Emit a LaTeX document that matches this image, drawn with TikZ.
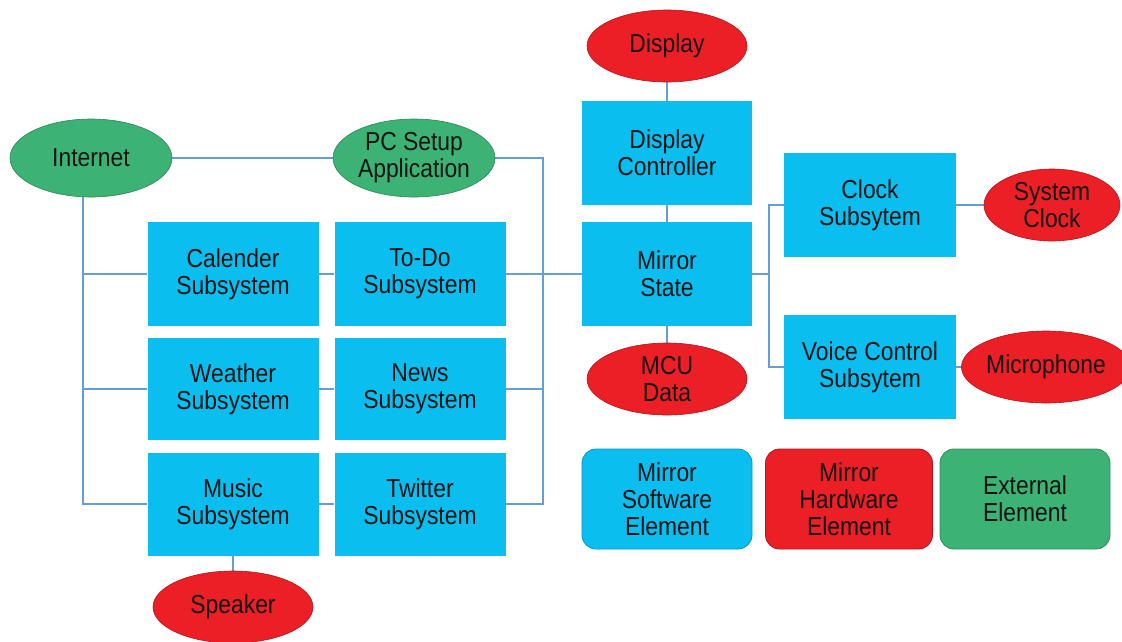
\documentclass[tikz,border=0pt]{standalone}
\usepackage{fontspec}
\setmainfont{Liberation Sans}[FakeStretch=0.88]
\usetikzlibrary{shapes.geometric,backgrounds}
\definecolor{boxblue}{RGB}{10,190,240}
\definecolor{hwred}{RGB}{236,30,38}
\definecolor{extgreen}{RGB}{60,178,116}
\definecolor{linkblue}{RGB}{100,158,212}
\tikzset{
  every node/.style={font=\fontsize{26}{27}\selectfont, text=black!92, align=center, inner sep=0pt},
  sbox/.style={rectangle, fill=boxblue, minimum width=#1, minimum height=104},
  sbox/.default=171,
  hwell/.style={ellipse, fill=hwred, draw=hwred!75!black, line width=0.6pt, minimum width=#1, minimum height=72},
  hwell/.default=160,
  extell/.style={ellipse, fill=extgreen, draw=extgreen!75!black, line width=0.6pt, minimum width=162, minimum height=78},
  legend/.style={rectangle, rounded corners=14pt, minimum width=170, minimum height=100, line width=0.8pt},
  link/.style={draw=linkblue, line width=2.2pt},
}
\begin{document}
\begin{tikzpicture}[x=1pt,y=-1pt]
\useasboundingbox (0,0) rectangle (1122,641);
% external
\node[extell] (inet) at (91,158) {Internet};
\node[extell] (pc) at (414,158) {PC Setup\\Application};
% subsystems left grid
\node[sbox] (cal) at (233,274) {Calender\\Subsystem};
\node[sbox] (todo) at (420,274) {To-Do\\Subsystem};
\node[sbox,minimum height=102] (weather) at (233,389) {Weather\\Subsystem};
\node[sbox,minimum height=102] (news) at (420,389) {News\\Subsystem};
\node[sbox,minimum height=103] (music) at (233,504) {Music\\Subsystem};
\node[sbox,minimum height=103] (twitter) at (420,504) {Twitter\\Subsystem};
\node[hwell] (speaker) at (233,607) {Speaker};
% middle column
\node[hwell] (display) at (667,46) {Display};
\node[sbox,minimum width=170] (dc) at (667,153) {Display\\Controller};
\node[sbox,minimum width=170] (ms) at (667,274) {Mirror\\State};
\node[hwell] (mcu) at (667,379) {MCU\\Data};
% right column
\node[sbox,minimum width=172] (clock) at (870,205) {Clock\\Subsytem};
\node[hwell=136] (sysclk) at (1052,205) {System\\Clock};
\node[sbox,minimum width=172] (voice) at (870,367) {Voice Control\\Subsytem};
\node[hwell=150] (mic) at (1046,367) {Microphone};
% legend
\node[legend, fill=boxblue, draw=boxblue!80!black] (lsw) at (667,499) {Mirror\\Software\\Element};
\node[legend, fill=hwred, draw=hwred!75!black, minimum width=167] (lhw) at (849,499) {Mirror\\Hardware\\Element};
\node[legend, fill=extgreen, draw=extgreen!80!black] (lext) at (1025,499) {External\\Element};
% bus coordinates
\coordinate (lbus) at (83,504);
\coordinate (rbus) at (543,504);
\coordinate (vbus) at (769,274);
\begin{scope}[on background layer]
  \draw[link] (inet.east) -- (pc.west);
  \draw[link] (pc.east) -| (rbus) -- (twitter.east);
  \draw[link] (news.east) -- (news.east -| rbus);
  \draw[link] (todo.east) -- (ms.west);
  \draw[link] (inet.center -| lbus) -- (lbus) -- (music.west);
  \draw[link] (cal.west -| lbus) -- (cal.west);
  \draw[link] (weather.west -| lbus) -- (weather.west);
  \draw[link] (cal.east) -- (todo.west);
  \draw[link] (weather.east) -- (news.west);
  \draw[link] (music.east) -- (twitter.west);
  \draw[link] (music.south) -- (speaker.center);
  \draw[link] (display.center) -- (dc.north);
  \draw[link] (dc.south) -- (ms.north);
  \draw[link] (ms.south) -- (mcu.center);
  \draw[link] (ms.east) -- (vbus);
  \draw[link] (clock.west) -| (vbus) |- (voice.west);
  \draw[link] (clock.east) -- (sysclk.center);
  \draw[link] (voice.east) -- (mic.center);
\end{scope}
\end{tikzpicture}
\end{document}
